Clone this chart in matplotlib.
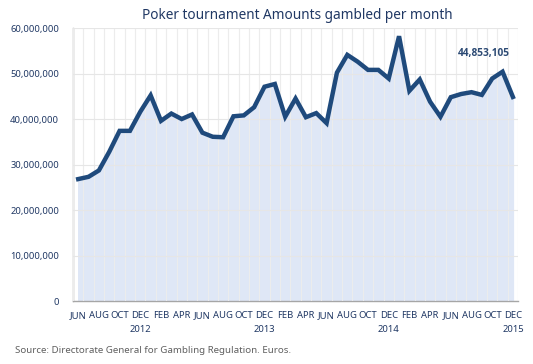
import matplotlib.pyplot as plt
from matplotlib.ticker import FuncFormatter

plt.rcParams['font.family'] = ['Noto Sans', 'DejaVu Sans']

# monthly amounts, JUN 2012 .. DEC 2015 (euros)
amounts = [26.8, 27.3, 28.7, 32.8, 37.4, 37.4, 41.6, 45.2, 39.6, 41.2, 40.0,
           41.0, 37.0, 36.1, 36.0, 40.6, 40.8, 42.6, 47.1, 47.7, 40.5, 44.5,
           40.4, 41.3, 39.1, 50.2, 54.1, 52.6, 50.8, 50.8, 48.9, 58.2, 46.2,
           48.7, 43.8, 40.5, 44.8, 45.5, 45.9, 45.3, 48.9, 50.4, 44.853105]
amounts = [a * 1e6 for a in amounts]
month_labels = ['JUN', 'AUG', 'OCT', 'DEC', 'FEB', 'APR', 'JUN', 'AUG', 'OCT',
                'DEC', 'FEB', 'APR', 'JUN', 'AUG', 'OCT', 'DEC', 'FEB', 'APR',
                'JUN', 'AUG', 'OCT', 'DEC']
year_labels = ['2012', '2013', '2014', '2015']
year_pos = [6, 18, 30, 42]
last_label = '44,853,105'

navy = '#1f4a7c'
txt = '#203864'
x = list(range(len(amounts)))

fig = plt.figure(figsize=(5.33, 3.64), dpi=100)
ax = fig.add_axes([0.137, 0.173, 0.835, 0.75])
ax.fill_between(x, amounts, 0, color='#dfe7f6', zorder=1)
ax.plot(x, amounts, color=navy, linewidth=3.2, solid_joinstyle='miter', zorder=3)

ax.set_xlim(-0.5, len(amounts) - 0.5)
ax.set_ylim(0, 60e6)
ax.set_yticks(range(0, 60000001, 10000000))
ax.yaxis.set_major_formatter(FuncFormatter(lambda v, p: f'{int(v):,}'))
ax.set_xticks(x[::2])
ax.set_xticklabels(month_labels)
ax.set_xticks([i - 0.5 for i in range(len(amounts) + 1)], minor=True)
ax.tick_params(axis='both', length=0, labelsize=6.8, labelcolor=txt)
ax.tick_params(axis='x', pad=12.5)
ax.tick_params(axis='y', pad=10)
ax.tick_params(axis='x', which='minor', length=0)
for lab in ax.get_xticklabels():
    lab.set_verticalalignment('baseline')
ax.grid(axis='y', color='#e6e6e6', linewidth=0.8, zorder=0)
ax.grid(axis='x', which='minor', color='#ececec', linewidth=0.8, zorder=2)
ax.set_axisbelow(False)
for s in ['top', 'right']:
    ax.spines[s].set_visible(False)
for s in ['left', 'bottom']:
    ax.spines[s].set_color('#a6a6a6')
    ax.spines[s].set_linewidth(1)

for yl, yp in zip(year_labels, year_pos):
    ax.text(yp, -0.088, yl, transform=ax.get_xaxis_transform(), ha='center',
            va='top', fontsize=6.8, color=txt)

ax.text(41.7, 54.5e6, last_label, ha='right', va='center', family='Open Sans',
        fontsize=7.3, fontweight='bold', color='#2c4a74')

fig.text(0.557, 0.958, 'Poker tournament Amounts gambled per month', ha='center',
         va='center', fontsize=9.8, color=txt)
fig.text(0.028, 0.038, 'Source: Directorate General for Gambling Regulation. Euros.',
         ha='left', va='center', fontsize=7, color='#606060')

fig.savefig('out.png', dpi=100)
